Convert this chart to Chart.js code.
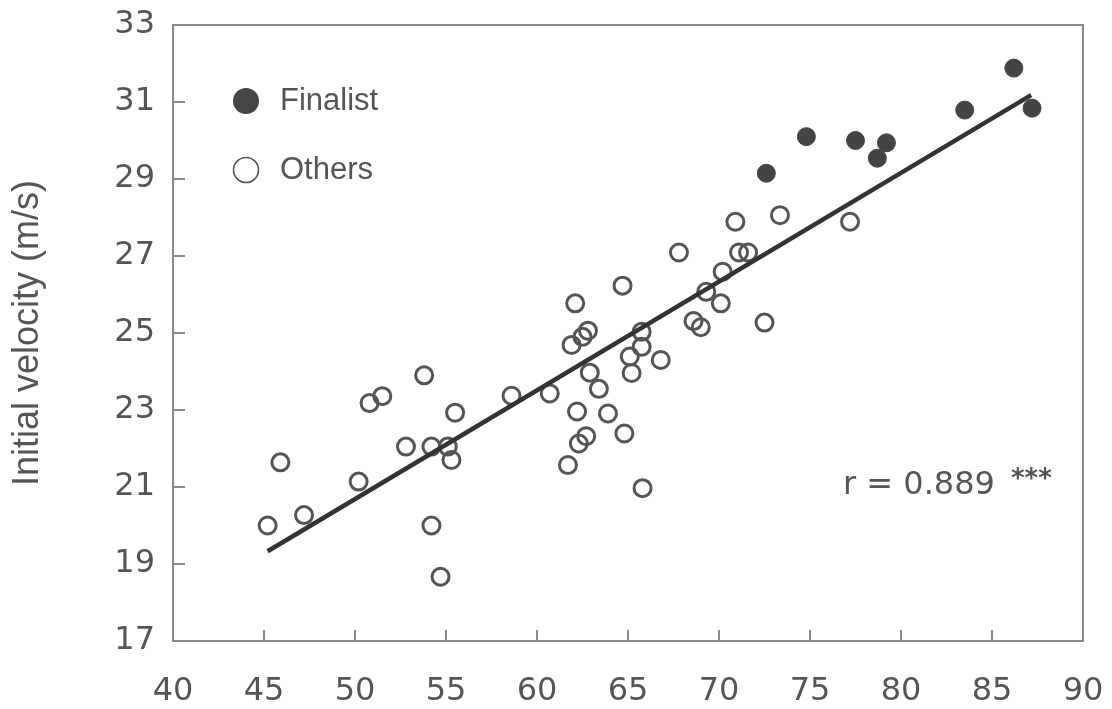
<!DOCTYPE html>
<html>
<head>
<meta charset="utf-8">
<script src="https://cdn.jsdelivr.net/npm/chart.js@4"></script>
<style>
  html, body { margin: 0; padding: 0; background: #fff; }
  #wrap { width: 1112px; height: 709px; }
</style>
</head>
<body>
<div id="wrap"><canvas id="chart"></canvas></div>
<script>
// finalists (filled markers)
const finalistX = [72.6, 74.8, 77.5, 79.2, 78.7, 83.5, 86.2, 87.2];
const finalistY = [29.15, 30.1, 30.0, 29.94, 29.54, 30.79, 31.88, 30.84];

// others (open markers)
const othersX = [45.2, 45.9, 47.2, 50.2, 50.8, 51.5, 53.8, 52.8, 54.2, 55.1, 55.3, 55.5, 54.2, 54.7,
  58.6, 60.7, 62.1, 61.9, 62.8, 62.5, 64.7, 67.8, 62.9, 63.4, 62.2, 63.9, 62.7, 62.3, 61.7, 64.8,
  65.8, 65.75, 65.75, 65.1, 65.2, 66.8, 68.6, 69.0, 69.3, 70.1, 70.2, 71.1, 71.6, 72.5, 70.9, 73.35, 77.2];
const othersY = [20.0, 21.64, 20.27, 21.14, 23.18, 23.36, 23.9, 22.05, 22.05, 22.05, 21.7, 22.93, 20.0, 18.67,
  23.37, 23.43, 25.77, 24.69, 25.06, 24.9, 26.23, 27.09, 23.97, 23.55, 22.96, 22.91, 22.32, 22.13, 21.57, 22.39,
  20.97, 24.64, 25.03, 24.39, 23.96, 24.3, 25.31, 25.15, 26.07, 25.77, 26.59, 27.09, 27.09, 25.27, 27.89, 28.06, 27.89];

// regression line end points
const fitX = [45.2, 87.15];
const fitY = [19.33, 31.18];

const xTickValues = [40, 45, 50, 55, 60, 65, 70, 75, 80, 85, 90];
const yTickValues = [17, 19, 21, 23, 25, 27, 29, 31, 33];

const legendLabels = ["Finalist", "Others"];
const rText = "r = 0.889";
const sigText = "***";

const toPoints = (xs, ys) => xs.map((x, i) => ({x: x, y: ys[i]}));

const axisColor = "#8a8a8a";
const textColor = "#555";

// frame around the plot, short inward ticks, legend and r annotation
const framePlugin = {
  id: "frame",
  afterDatasetsDraw(chart) {
    const ctx = chart.ctx;
    const a = chart.chartArea;
    const xs = chart.scales.x, ys = chart.scales.y;
    ctx.save();
    ctx.strokeStyle = axisColor;
    ctx.lineWidth = 2;
    ctx.strokeRect(a.left, a.top, a.right - a.left, a.bottom - a.top);
    ctx.beginPath();
    xTickValues.slice(1, -1).forEach(v => {
      const px = xs.getPixelForValue(v);
      ctx.moveTo(px, a.bottom);
      ctx.lineTo(px, a.bottom - 11);
    });
    yTickValues.slice(1, -1).forEach(v => {
      const py = ys.getPixelForValue(v);
      ctx.moveTo(a.left, py);
      ctx.lineTo(a.left + 12, py);
    });
    ctx.stroke();

    // legend
    const lx = a.left + 73;
    const rows = [a.top + 76, a.top + 145];
    ctx.beginPath();
    ctx.arc(lx, rows[0], 13, 0, Math.PI * 2);
    ctx.fillStyle = "#454545";
    ctx.fill();
    ctx.beginPath();
    ctx.arc(lx, rows[1], 12.5, 0, Math.PI * 2);
    ctx.lineWidth = 1.6;
    ctx.strokeStyle = "#555";
    ctx.stroke();
    ctx.fillStyle = textColor;
    ctx.font = "31px 'Liberation Sans'";
    ctx.textBaseline = "middle";
    ctx.textAlign = "left";
    ctx.fillText(legendLabels[0], a.left + 107, rows[0]);
    ctx.fillText(legendLabels[1], a.left + 107, rows[1]);

    // correlation
    ctx.font = "32px 'DejaVu Sans'";
    ctx.fillText(rText, a.left + 670, a.top + 461);
    ctx.font = "bold 26px 'DejaVu Sans'";
    ctx.fillText(sigText, a.left + 838, a.top + 455);
    ctx.restore();
  }
};

new Chart(document.getElementById("chart"), {
  type: "scatter",
  data: {
    datasets: [{
      type: "line",
      label: "fit",
      data: toPoints(fitX, fitY),
      borderColor: "#333",
      borderWidth: 4.5,
      pointRadius: 0,
      fill: false
    }, {
      label: legendLabels[0],
      data: toPoints(finalistX, finalistY),
      backgroundColor: "#444",
      borderColor: "#444",
      borderWidth: 1,
      pointRadius: 9
    }, {
      label: legendLabels[1],
      data: toPoints(othersX, othersY),
      backgroundColor: "rgba(255,255,255,0)",
      borderColor: "#555",
      borderWidth: 3,
      pointRadius: 8.5
    }]
  },
  plugins: [framePlugin],
  options: {
    responsive: true,
    maintainAspectRatio: false,
    animation: false,
    layout: {
      padding: {left: 0, top: 25, right: 29, bottom: 0}
    },
    plugins: {
      legend: {display: false},
      tooltip: {enabled: false}
    },
    scales: {
      x: {
        type: "linear",
        min: 40,
        max: 90,
        afterBuildTicks: s => { s.ticks = xTickValues.map(v => ({value: v})); },
        afterFit: s => { s.height = 68; s.paddingLeft = 0; s.paddingRight = 0; },
        grid: {display: false, drawTicks: false},
        border: {display: false},
        ticks: {
          color: textColor,
          padding: 31,
          maxRotation: 0,
          font: {family: "DejaVu Sans", size: 32}
        }
      },
      y: {
        type: "linear",
        min: 17,
        max: 33,
        afterBuildTicks: s => { s.ticks = yTickValues.map(v => ({value: v})); },
        afterFit: s => { s.width = 173; s.paddingTop = 0; s.paddingBottom = 0; },
        grid: {display: false, drawTicks: false},
        border: {display: false},
        title: {
          display: true,
          text: "Initial velocity (m/s)",
          color: textColor,
          padding: {top: 6, bottom: 0},
          font: {family: "Liberation Sans", size: 36}
        },
        ticks: {
          color: textColor,
          padding: 18,
          font: {family: "DejaVu Sans", size: 32}
        }
      }
    }
  }
});
</script>
</body>
</html>
